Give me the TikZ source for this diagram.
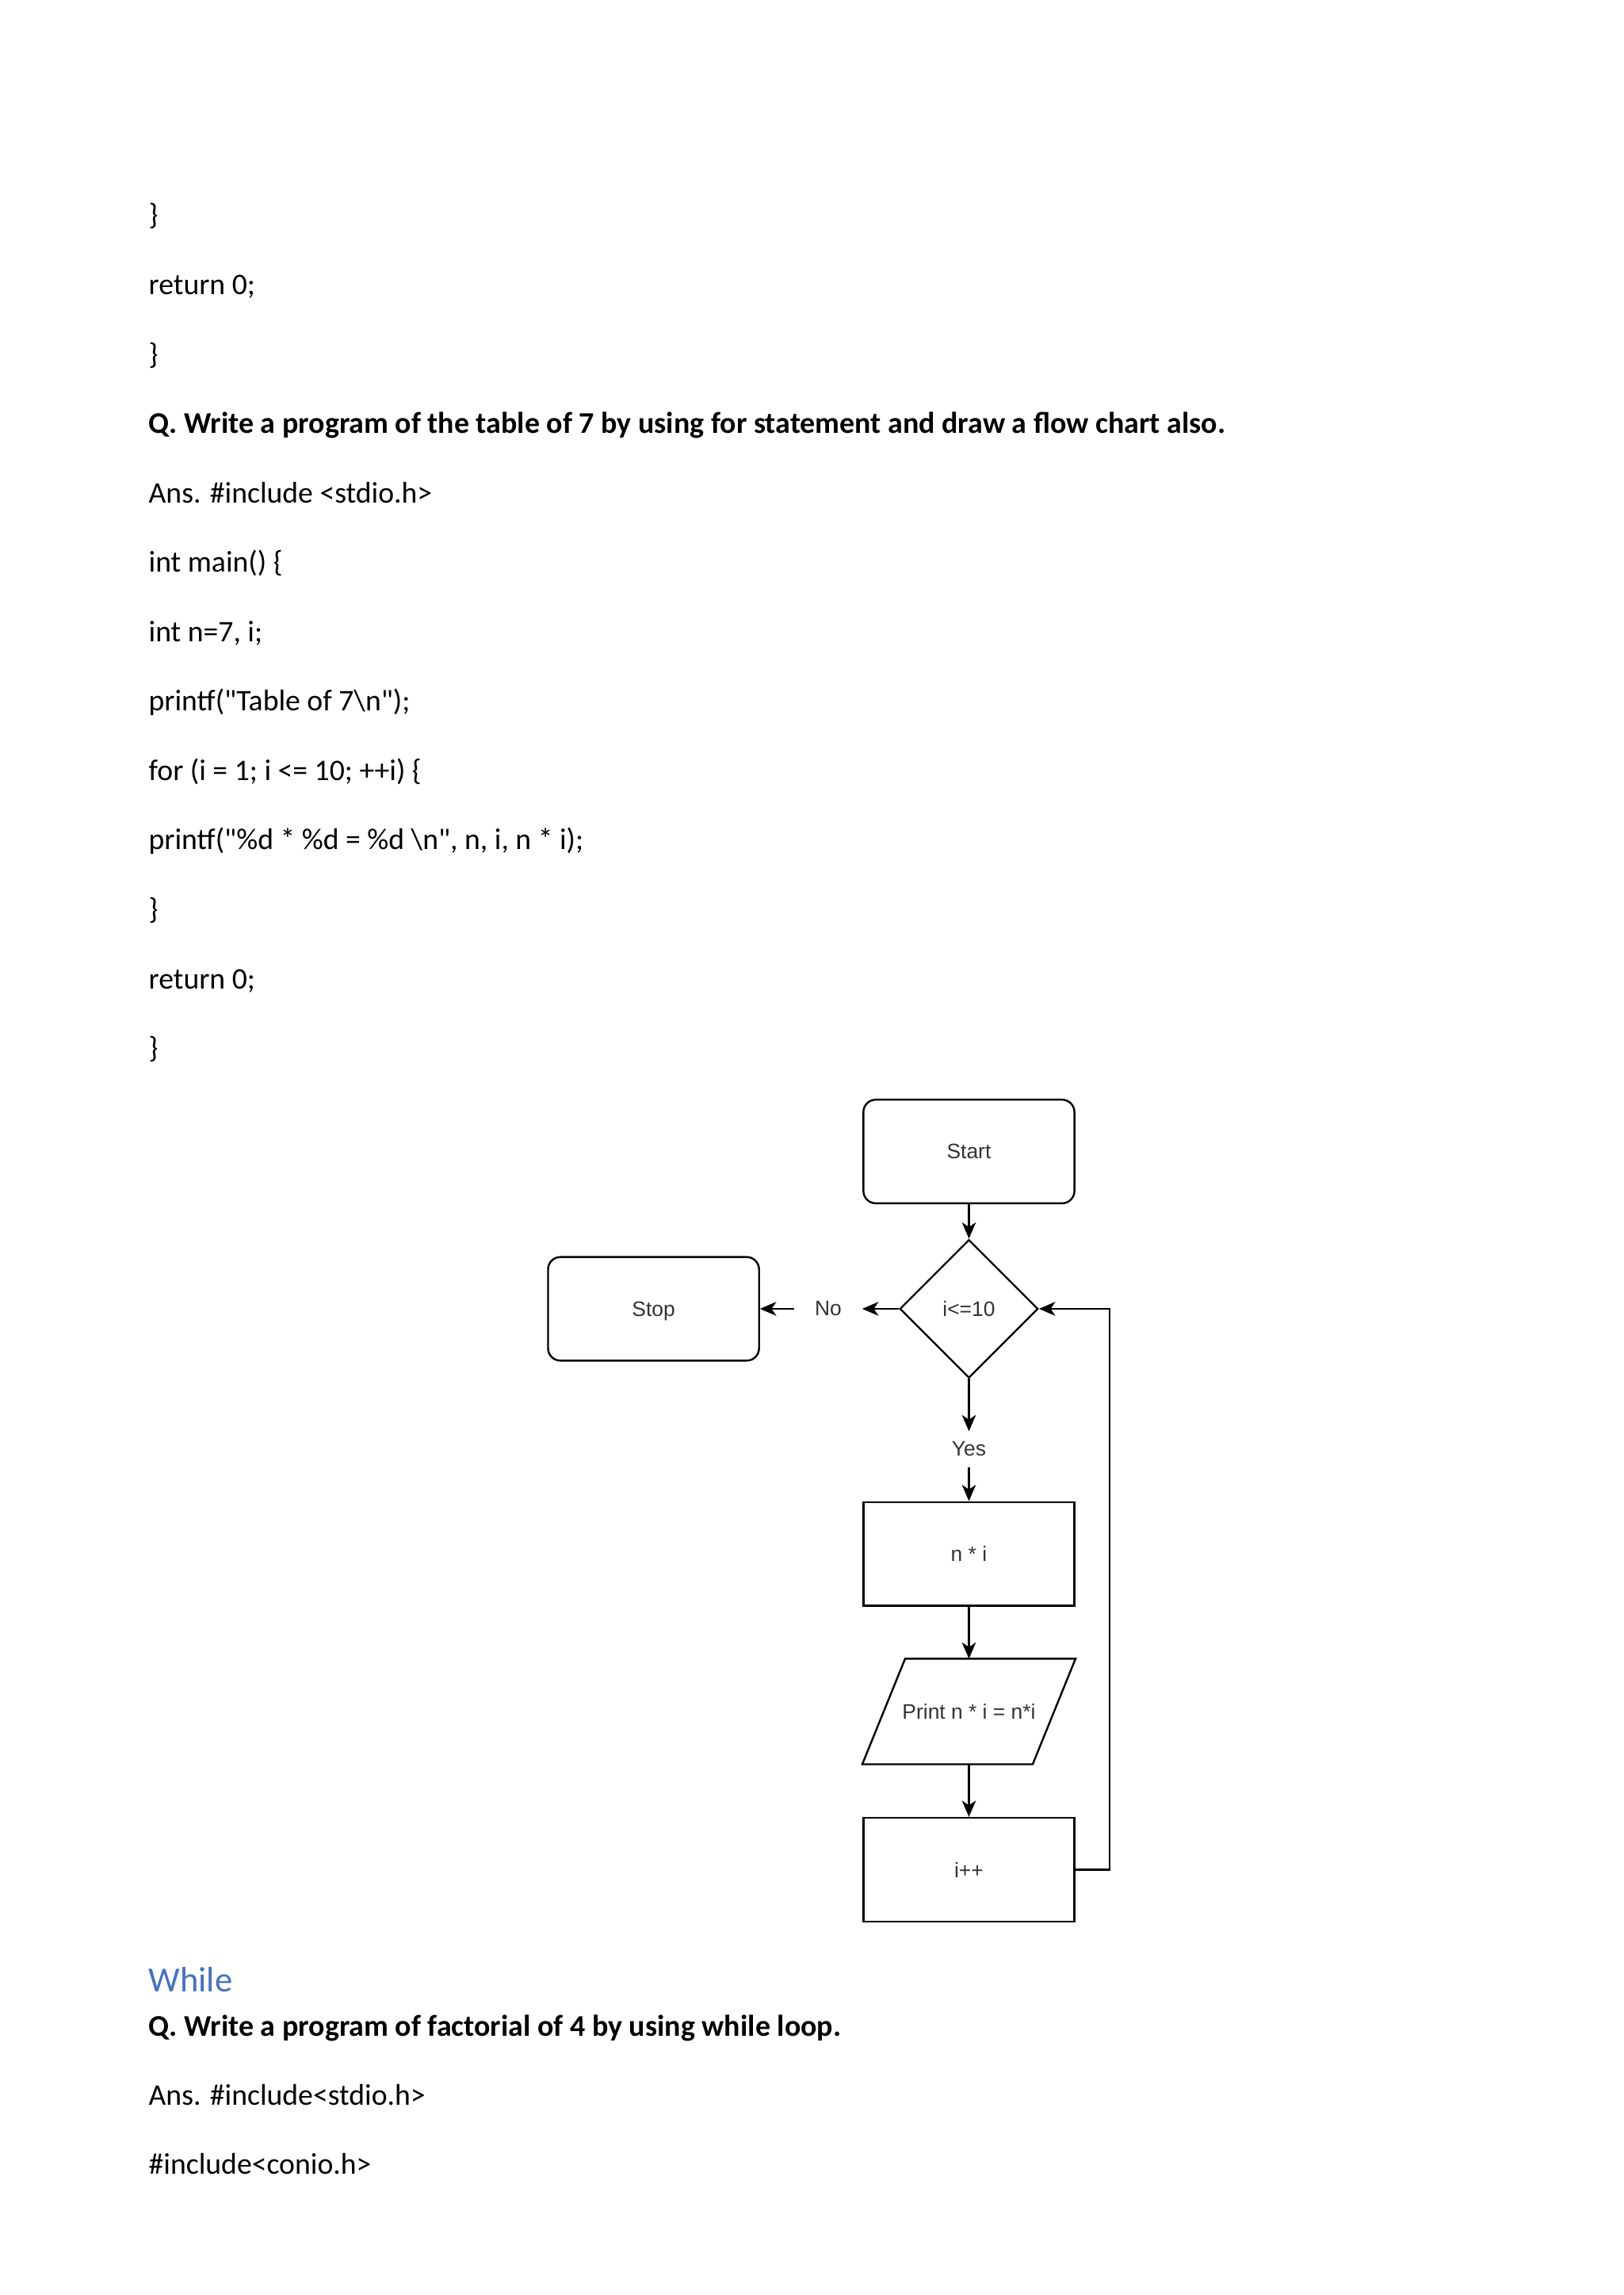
\documentclass[tikz,border=0pt]{standalone}
\usepackage{fontspec}
\setmainfont{Carlito}
\newfontfamily\chartfont{Liberation Sans}
\usetikzlibrary{arrows.meta,shapes.geometric}
\definecolor{ink}{RGB}{51,51,51}
\definecolor{headblue}{RGB}{68,114,196}
\newcommand{\comma}{,}
\newcommand{\qtext}[1]{{\fontsize{11.07}{13}\selectfont\bfseries #1}}

\begin{document}
\begin{tikzpicture}[
    box/.style={draw,line width=0.7pt,minimum width=2.73cm,minimum height=1.34cm,text depth=0pt,
      font=\chartfont\fontsize{7.7}{9}\selectfont,text=ink},
    roundbox/.style={box,rounded corners=1.6mm},
    decision/.style={box,diamond,minimum width=1.79cm,minimum height=1.79cm,inner sep=0pt},
    iobox/.style={box,draw=none,minimum width=2.18cm},
    lbl/.style={font=\chartfont\fontsize{7.7}{9}\selectfont,text=ink,inner xsep=2.6mm,inner ysep=1.3mm},
    flow/.style={line width=0.7pt,-{Stealth[length=2.1mm,width=1.8mm,inset=0.6mm]}},
    codeline/.style={anchor=base west,inner sep=0pt,font=\fontsize{11}{13}\selectfont}
  ]
    \useasboundingbox (0,0) rectangle (21,-29.685);
    % code above the chart
    \foreach \k/\t in {
      0/\},
      1/return 0;,
      2/\},
      3/\qtext{Q. Write a program of the table of 7 by using for statement and draw a flow chart also.},
      4/Ans. \#include <stdio.h>,
      5/int main() \{,
      6/int n=7\comma{} i;,
      7/printf(\textquotedbl Table of 7\textbackslash n\textquotedbl);,
      8/for (i = 1; i <= 10; ++i) \{,
      9/printf(\textquotedbl\%d * \%d = \%d \textbackslash n\textquotedbl\comma{} n\comma{} i\comma{} n * i);,
      10/\},
      11/return 0;,
      12/\}}
    {
      \node[codeline] (line\k) at (1.917,{-2.912-0.8977*\k}) {\t};
    }
    % flow chart
    \node[roundbox] (start) at (12.535,-14.894) {Start};
    \node[decision] (cond) at (12.535,-16.929) {i<=10};
    \node[roundbox] (stop) at (8.455,-16.929) {Stop};
    \node[lbl] (no) at (10.715,-16.929) {No};
    \node[lbl] (yes) at (12.535,-18.744) {Yes};
    \node[box] (mult) at (12.535,-20.098) {n * i};
    \node[iobox] (print) at (12.535,-22.137) {Print n * i = n*i};
    \draw[line width=0.7pt] ([xshift=0.277cm]print.north west) -- ([xshift=0.277cm]print.north east)
      -- ([xshift=-0.277cm]print.south east) -- ([xshift=-0.277cm]print.south west) -- cycle;
    \node[box] (incr) at (12.535,-24.183) {i++};
    \foreach \a/\b in {start/cond,cond/yes,yes/mult,mult/print,print/incr,cond/no,no/stop}
      \draw[flow] (\a) -- (\b);
    \draw[flow] (incr.east) -- ++(0.44,0) |- (cond.east);
    % next section
    \node[codeline,font=\fontsize{13}{15}\selectfont,text=headblue] (while) at (1.917,-25.765) {While};
    \node[codeline] (q2) at (1.917,-26.332) {\qtext{Q. Write a program of factorial of 4 by using while loop.}};
    \node[codeline] (ans2) at (1.917,-27.229) {Ans. \#include<stdio.h>};
    \node[codeline] (conio) at (1.917,-28.126) {\#include<conio.h>};
  \end{tikzpicture}
\end{document}
